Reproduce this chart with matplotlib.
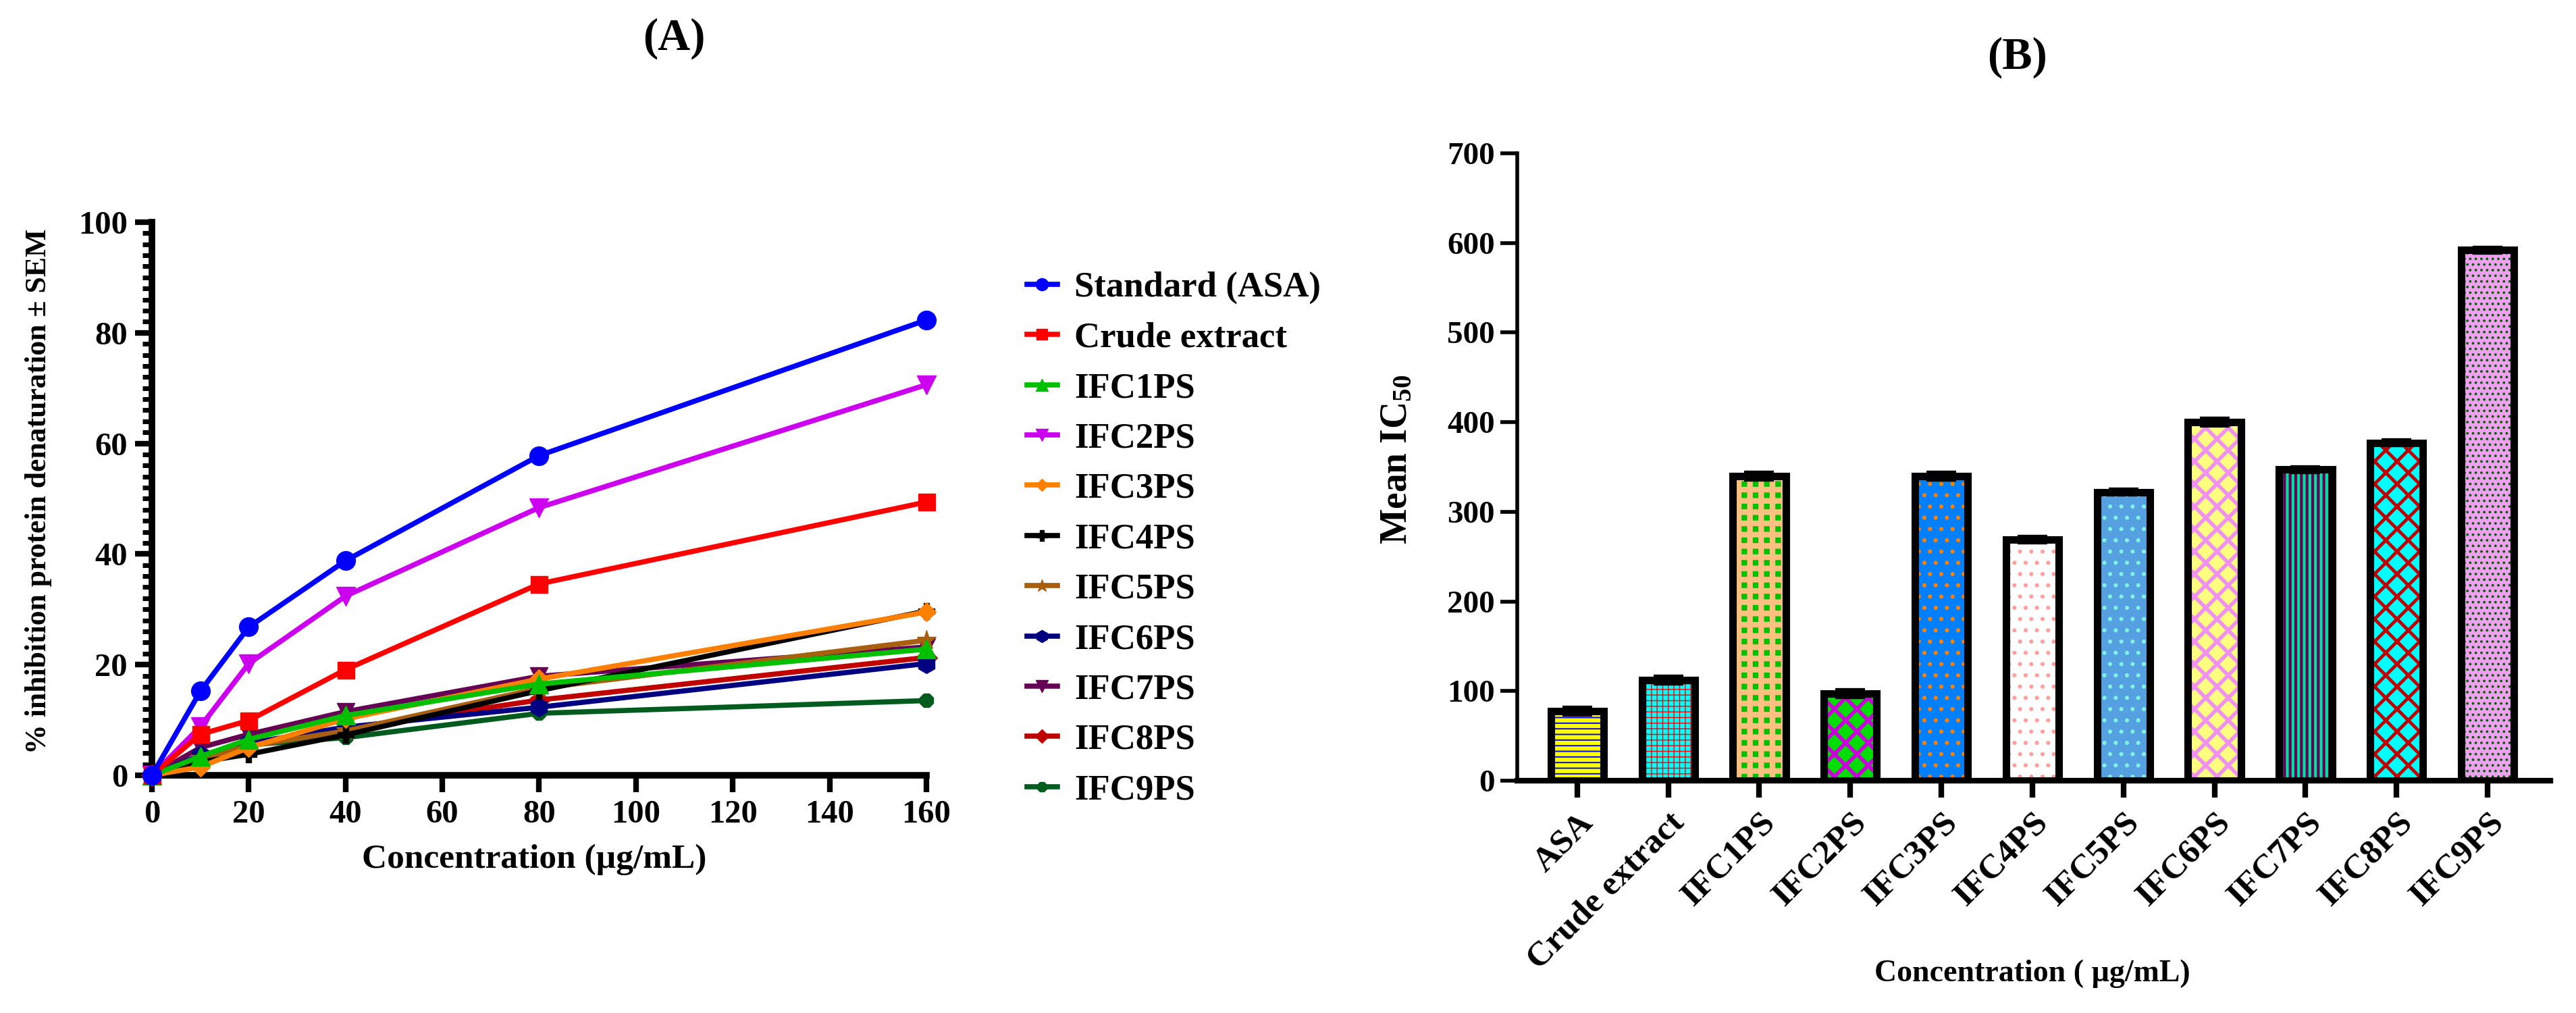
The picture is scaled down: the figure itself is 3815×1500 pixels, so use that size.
import matplotlib
matplotlib.use('Agg')
import matplotlib.pyplot as plt
from matplotlib.ticker import MultipleLocator

plt.rcParams['font.family'] = ['Liberation Serif', 'DejaVu Serif']
plt.rcParams['font.weight'] = 'bold'
plt.rcParams['mathtext.fontset'] = 'custom'
plt.rcParams['mathtext.rm'] = 'Liberation Serif:bold'
plt.rcParams['mathtext.it'] = 'Liberation Serif:bold'
plt.rcParams['mathtext.bf'] = 'Liberation Serif:bold'

# panel A data: % inhibition of protein denaturation
conc = [0, 10, 20, 40, 80, 160]
standard_asa = [0, 15.2, 26.8, 38.8, 57.8, 82.3]
crude_extract = [0, 7.4, 9.9, 19.1, 34.6, 49.4]
ifc1ps = [0, 3.4, 6.5, 10.8, 16.5, 22.8]
ifc2ps = [0, 8.8, 20.2, 32.4, 48.4, 70.6]
ifc3ps = [0, 1.5, 5.0, 10.2, 17.4, 29.5]
ifc4ps = [0, 2.4, 3.8, 7.3, 15.3, 29.7]
ifc5ps = [0, 3.0, 5.3, 8.0, 15.7, 24.4]
ifc6ps = [0, 3.6, 5.8, 8.7, 12.3, 20.2]
ifc7ps = [0, 5.0, 7.4, 11.5, 17.9, 23.2]
ifc8ps = [0, 3.0, 5.5, 8.4, 13.6, 21.3]
ifc9ps = [0, 3.0, 5.5, 6.8, 11.2, 13.5]

# panel B data: mean IC50
bar_names = ['ASA', 'Crude extract', 'IFC1PS', 'IFC2PS', 'IFC3PS', 'IFC4PS',
             'IFC5PS', 'IFC6PS', 'IFC7PS', 'IFC8PS', 'IFC9PS']
ic50 = [78, 112, 340, 97, 340, 269, 322, 400, 347, 377, 592]
ic50_sem = [3, 3, 3, 3, 3, 2, 2, 3, 2, 2, 2]


def main():

    fig = plt.figure(figsize=(38.16, 15), dpi=100)

    # ---------------- panel A ----------------
    axA = fig.add_axes([0.059, 0.2347, 0.3005, 0.546])
    series = [
        ('Standard (ASA)', standard_asa, '#0000FF', 'o', 20),
        ('Crude extract', crude_extract, '#FF0000', 's', 18),
        ('IFC1PS', ifc1ps, '#00C000', '^', 20),
        ('IFC2PS', ifc2ps, '#CC00EE', 'v', 20),
        ('IFC3PS', ifc3ps, '#FF8000', 'D', 14),
        ('IFC4PS', ifc4ps, '#000000', 'P', 17),
        ('IFC5PS', ifc5ps, '#A86010', '*', 21),
        ('IFC6PS', ifc6ps, '#000080', 'h', 20),
        ('IFC7PS', ifc7ps, '#660055', 'v', 19),
        ('IFC8PS', ifc8ps, '#C00000', 'D', 16),
        ('IFC9PS', ifc9ps, '#005C1E', '8', 16),
    ]
    handles = []
    for i, (name, vals, col, mk, ms) in enumerate(series):
        line, = axA.plot(conc, vals, color=col, marker=mk, markersize=ms,
                         linewidth=5.5, label=name, zorder=20 - i, clip_on=False)
        handles.append(line)

    axA.set_xlim(0, 160)
    axA.set_ylim(0, 100)
    axA.xaxis.set_major_locator(MultipleLocator(20))
    axA.yaxis.set_major_locator(MultipleLocator(20))
    axA.yaxis.set_minor_locator(MultipleLocator(2))
    for s in ['top', 'right']:
        axA.spines[s].set_visible(False)
    for s in ['left', 'bottom']:
        axA.spines[s].set_linewidth(7)
    axA.tick_params(which='major', length=18, width=6, labelsize=35, pad=8)
    axA.tick_params(which='minor', length=10, width=5)
    axA.set_xlabel('Concentration (µg/mL)', fontsize=37, fontweight='bold')
    axA.xaxis.set_label_coords(0.494, -0.152)
    axA.xaxis.label.set_va('center')
    axA.set_ylabel('% inhibition protein denaturation ± SEM', fontsize=31.5,
                   fontweight='bold')
    axA.yaxis.set_label_coords(-0.147, 0.513)
    axA.yaxis.label.set_va('center')
    fig.text(0.2615, 0.962, '(A)', fontsize=48, fontweight='bold', ha='center', va='center')

    fig.legend(handles=handles, loc='upper left', bbox_to_anchor=(0.3985, 0.732),
               frameon=False, fontsize=38, handlelength=0.85, handletextpad=0.48,
               labelspacing=0.5, borderpad=0, borderaxespad=0, markerscale=0.65)

    # ---------------- panel B ----------------
    axB = fig.add_axes([0.5888, 0.2293, 0.401, 0.6194])
    # face colour, pattern colour, hatch, hatch line width
    fills = [
        ('#FFFF00', '#0000FF', '--', 1.4),
        ('#00FFFF', '#FF0000', '++', 1.0),
        ('#00C000', '#FFC080', '+', 6.0),
        ('#00DD00', '#CC00DD', 'x', 4.0),
        ('#0080FF', '#FF8000', '.', 2.0),
        ('#FFFFFF', '#FFA0A0', '.', 2.0),
        ('#55A0E0', '#80F0E0', '.', 2.0),
        ('#FFFF80', '#F090F0', 'x', 4.0),
        ('#660055', '#00E0A0', '||', 3.0),
        ('#00FFFF', '#C00000', 'x', 3.5),
        ('#F0A0F0', '#006000', '..', 1.5),
    ]
    pos = list(range(len(bar_names)))
    for i in pos:
        face, hcol, hatch, hlw = fills[i]
        plt.rcParams['hatch.linewidth'] = hlw
        bars = axB.bar(pos[i], ic50[i], width=0.58, color=face, edgecolor=hcol,
                       hatch=hatch, linewidth=0, zorder=2)
        for p in bars:
            if hasattr(p, 'set_hatch_linewidth'):
                p.set_hatch_linewidth(hlw)
    if not hasattr(bars[0], 'set_hatch_linewidth'):
        plt.rcParams['hatch.linewidth'] = 3.0
    axB.bar(pos, ic50, width=0.58, fill=False, edgecolor='black', linewidth=8, zorder=3)
    axB.errorbar(pos, ic50, yerr=ic50_sem, fmt='none', ecolor='black', elinewidth=6,
                 capsize=16, capthick=6, zorder=4)

    axB.set_xlim(-0.66, 10.69)
    axB.set_ylim(0, 700)
    axB.yaxis.set_major_locator(MultipleLocator(100))
    axB.set_xticks(pos)
    axB.set_xticklabels(bar_names, rotation=45, ha='right', rotation_mode='anchor')
    for s in ['top', 'right']:
        axB.spines[s].set_visible(False)
    axB.spines['left'].set_linewidth(4)
    axB.spines['bottom'].set_linewidth(6)
    axB.tick_params(axis='y', length=18, width=4, labelsize=34, pad=6)
    axB.tick_params(axis='x', length=18, width=6, labelsize=37, pad=10)
    axB.set_xlabel('Concentration ( µg/mL)', fontsize=33, fontweight='bold')
    axB.xaxis.set_label_coords(0.4987, -0.308)
    axB.xaxis.label.set_va('center')
    axB.set_ylabel('Mean IC$_{50}$', fontsize=40, fontweight='bold')
    axB.yaxis.set_label_coords(-0.116, 0.512)
    axB.yaxis.label.set_va('center')
    fig.text(0.783, 0.943, '(B)', fontsize=48, fontweight='bold', ha='center', va='center')

    fig.savefig('out.png', dpi=100)


if __name__ == '__main__':
    main()
